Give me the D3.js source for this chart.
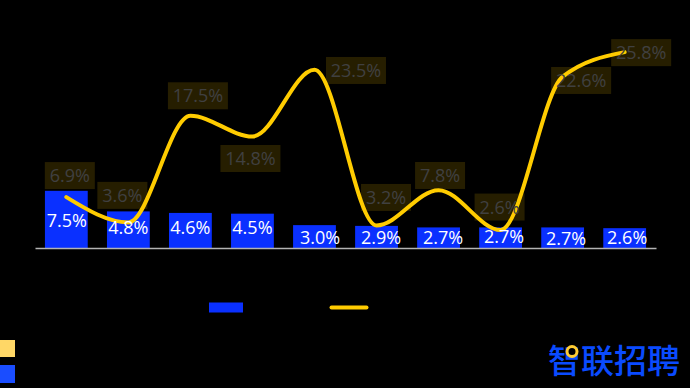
<!DOCTYPE html>
<html>
<head>
<meta charset="utf-8">
<script src="https://cdn.jsdelivr.net/npm/d3@7"></script>
<style>
	html, body { margin: 0; padding: 0; background: #000; overflow: hidden; }
	svg { display: block; }
	text { font-family: "Open Sans", "Noto Sans", sans-serif; }
</style>
</head>
<body>
<div id="chart"></div>
<script>
"use strict";

/*** DATA ***/

// category names are not readable in the picture, so just the positions
const categories = ["c1", "c2", "c3", "c4", "c5", "c6", "c7", "c8", "c9", "c10"];
const barValues = [7.5, 4.8, 4.6, 4.5, 3.0, 2.9, 2.7, 2.7, 2.7, 2.6];
const lineValues = [6.9, 3.6, 17.5, 14.8, 23.5, 3.2, 7.8, 2.6, 22.6, 25.8];
const logoText = "智联招聘";

/*** VIEW PARAMETERS ***/

const width = 690,
	height = 388,
	blue = "#0a30ff",
	gold = "#ffcc00";

// label offsets from their mark, hand placed like in the original
const barLabelOffset = [[0.5, 30], [0, 16], [0, 15], [0, 14], [5.5, 12], [4.5, 12], [4.5, 10], [3.5, 9], [3.5, 11], [2.5, 9]];
const lineLabelOffset = [[3.5, -21.5], [-6, -27], [7.5, -20], [-2, 22], [41.5, 0.7], [9.5, -28], [1.5, -14.7], [-1, -23], [18.5, 3.8], [16.5, 0.5]];

/*** SCALES ***/

const fn_x = d3.scaleBand()
	.domain(categories)
	.range([35, 656])
	.paddingInner(0.31)
	.paddingOuter(0.16);

const fn_yBar = d3.scaleLinear()
	.domain([0, 8])
	.range([248, 187]);

const fn_yLine = d3.scaleLinear()
	.domain([0, 26])
	.range([250, 50.6]);

const fn_center = (d, i) => fn_x(categories[i]) + fn_x.bandwidth() / 2;
const fn_pct = d => d3.format(".1f")(d) + "%";

/*** DRAWING ***/

const svg = d3.select("#chart")
	.append("svg")
	.attr("width", width)
	.attr("height", height);

svg.append("rect")
	.attr("width", width)
	.attr("height", height)
	.attr("fill", "#000");

// bars
svg.append("g")
	.selectAll("rect")
	.data(barValues)
	.join("rect")
	.attr("x", (d, i) => fn_x(categories[i]))
	.attr("y", d => fn_yBar(d))
	.attr("width", fn_x.bandwidth())
	.attr("height", d => fn_yBar(0) - fn_yBar(d))
	.attr("fill", blue);

// axis, no ticks
const axis = svg.append("g")
	.attr("transform", "translate(0," + fn_yBar(0) + ")")
	.call(d3.axisBottom(fn_x).tickSize(0).tickFormat(""));
axis.select(".domain")
	.attr("stroke", "#b4b4b4")
	.attr("stroke-width", 1.5);

// line
const fn_line = d3.line()
	.x(fn_center)
	.y(d => fn_yLine(d))
	.curve(d3.curveMonotoneX);

svg.append("path")
	.datum(lineValues)
	.attr("d", fn_line)
	.attr("fill", "none")
	.attr("stroke", gold)
	.attr("stroke-width", 4)
	.attr("stroke-linecap", "round");

// line labels sit over the line with a see through box
const lineLabels = svg.append("g")
	.selectAll("g")
	.data(lineValues)
	.join("g")
	.attr("transform", (d, i) => "translate(" + (fn_center(d, i) + lineLabelOffset[i][0]) + "," + (fn_yLine(d) + lineLabelOffset[i][1]) + ")");

lineLabels.append("rect")
	.attr("x", d => d >= 10 ? -30 : -25)
	.attr("y", -13.5)
	.attr("width", d => d >= 10 ? 60 : 50)
	.attr("height", 27)
	.attr("fill", gold)
	.attr("fill-opacity", 0.15);

lineLabels.append("text")
	.attr("text-anchor", "middle")
	.attr("dy", "0.36em")
	.attr("font-size", 18)
	.attr("fill", "#404040")
	.text(fn_pct);

// bar labels
svg.append("g")
	.selectAll("text")
	.data(barValues)
	.join("text")
	.attr("x", (d, i) => fn_center(d, i) + barLabelOffset[i][0])
	.attr("y", (d, i) => fn_yBar(d) + barLabelOffset[i][1])
	.attr("text-anchor", "middle")
	.attr("dy", "0.36em")
	.attr("font-size", 18)
	.attr("fill", "#fff")
	.text(fn_pct);

/*** LEGEND ***/

svg.append("rect")
	.attr("x", 209).attr("y", 302.5)
	.attr("width", 34).attr("height", 10)
	.attr("fill", blue);

svg.append("line")
	.attr("x1", 331.5).attr("x2", 366.5)
	.attr("y1", 307.5).attr("y2", 307.5)
	.attr("stroke", gold)
	.attr("stroke-width", 4)
	.attr("stroke-linecap", "round");

// the two swatches cut by the left edge
svg.append("rect")
	.attr("x", 0).attr("y", 340)
	.attr("width", 15).attr("height", 17)
	.attr("fill", "#ffd766");

svg.append("rect")
	.attr("x", 0).attr("y", 365)
	.attr("width", 15).attr("height", 18)
	.attr("fill", "#1a4dff");

/*** LOGO ***/

svg.append("text")
	.attr("x", 548)
	.attr("y", 373)
	.attr("font-size", 33)
	.attr("font-weight", 500)
	.style("font-family", '"Noto Sans CJK SC"')
	.attr("fill", "#0a4bff")
	.text(logoText);

svg.append("circle")
	.attr("cx", 572)
	.attr("cy", 351.5)
	.attr("r", 5)
	.attr("fill", "#000")
	.attr("stroke", "#ffcc33")
	.attr("stroke-width", 3);
</script>
</body>
</html>
